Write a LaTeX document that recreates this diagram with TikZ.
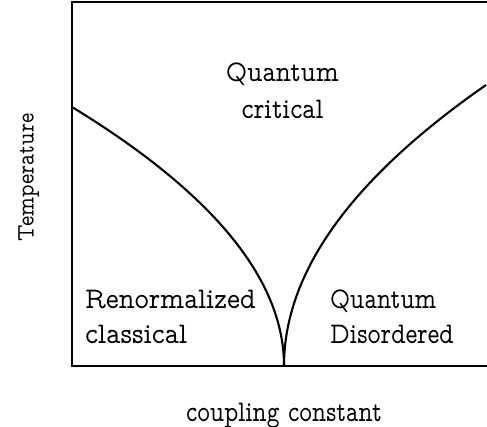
\documentclass[tikz,border=0pt]{standalone}
\usepackage{fontspec}
\newfontfamily\vtt[FakeStretch=0.87]{Latin Modern Mono Prop}
\begin{document}
\begin{tikzpicture}[x=1pt,y=-1pt,
  lbl/.style={font=\vtt\fontsize{30}{30}\selectfont, inner sep=0pt},
  axlbl/.style={font=\vtt\fontsize{25}{25}\selectfont, inner sep=0pt},
  frame/.style={line width=1.2pt},
  curve/.style={line width=2.1pt}]
\useasboundingbox (0,0) rectangle (487,427);
\draw[frame] (487,2) -- (72,2) -- (72,366) -- (487,366);
\draw[curve, domain=0:259, samples=120, variable=\t] plot ({284-212*(\t/259)^2}, {366-\t});
\draw[curve, domain=0:281, samples=120, variable=\t] plot ({284+202*(\t/281)^2}, {366-\t});
\node[lbl, anchor=base] (qc1) at (282.5,81.7) {Quantum};
\node[lbl, anchor=base] (qc2) at (282.5,118.3) {critical};
\node[lbl, anchor=base west] (rc1) at (85,308.3) {\scalebox{1.05}[1]{Renormalized}};
\node[lbl, anchor=base west] (rc2) at (85,343.3) {\scalebox{1.07}[1]{classical}};
\node[lbl, anchor=base west] (qd1) at (330,308.3) {\scalebox{0.94}[1]{Quantum}};
\node[lbl, anchor=base west] (qd2) at (330,343.3) {\scalebox{0.96}[1]{Disordered}};
\node[lbl, anchor=base] (xl) at (284,421.7) {\scalebox{0.93}[1]{coupling constant}};
\node[axlbl, rotate=90, anchor=base] (yl) at (33.5,177.5) {Temperature};
\end{tikzpicture}
\end{document}
